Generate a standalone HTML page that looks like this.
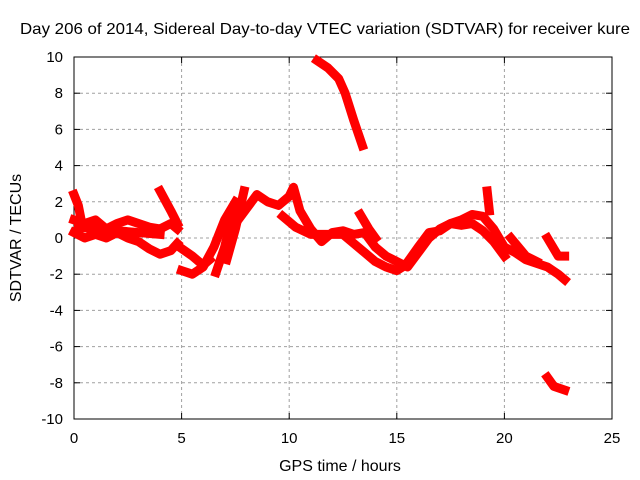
<!DOCTYPE html>
<html><head><meta charset="utf-8"><style>
body{margin:0;background:#fff}
svg{display:block;font-family:"Liberation Sans",sans-serif}
</style></head><body>
<svg id="chart" width="640" height="480">
<g id="grid"></g>
<g id="axes"></g>
<g id="series"></g>
<text x="325" y="34" text-anchor="middle" font-size="16" textLength="610" lengthAdjust="spacingAndGlyphs">Day 206 of 2014, Sidereal Day-to-day VTEC variation (SDTVAR) for receiver kure</text>
<text x="340" y="471" text-anchor="middle" font-size="16">GPS time / hours</text>
<text transform="translate(21,238) rotate(-90)" text-anchor="middle" font-size="16">SDTVAR / TECUs</text>
</svg>
<script>
const xTicks=[0,5,10,15,20,25];
const yTicks=[-10,-8,-6,-4,-2,0,2,4,6,8,10];
const trackA=[[0,1.0],[0.5,0.8],[1,1.0],[1.5,0.5],[2,0.8],[2.5,1.0],[3,0.8],[3.5,0.6],[4,0.5],[4.5,0.8],[4.8,0.5]];
const trackB=[[0,0.3],[0.5,0.0],[1,0.2],[1.5,0],[2,0.3],[2.5,0.0],[3,-0.2],[3.5,-0.6],[4,-0.9],[4.5,-0.7],[4.8,-0.3]];
const trackC=[[0,2.4],[0.2,1.8],[0.3,1.2]];
const trackD=[[4.0,2.6],[4.5,1.5],[4.8,0.8]];
const trackE=[[5.0,-1.8],[5.5,-2.0],[6,-1.6],[6.5,-0.5],[7,1.0],[7.5,2.0]];
const trackF=[[4.9,-0.5],[5.5,-1.0],[6,-1.5],[6.3,-1.2]];
const trackG=[[6.6,-1.9],[7.0,-0.5],[7.4,1.5]];
const trackH=[[7.1,-1.2],[7.5,0.5],[7.9,2.6]];
const trackI=[[7.5,0.8],[8,1.6],[8.5,2.4],[9,2.0],[9.5,1.8],[10,2.3],[10.2,2.8],[10.5,1.5],[11,0.5],[11.5,-0.2],[12,0.3],[12.5,0.4],[13,0.2],[13.5,0.3],[14,-0.5],[14.5,-1.0],[15,-1.3],[15.5,-1.6],[16,-0.8],[16.5,0],[17,0.5],[17.5,0.8],[18,1.0],[18.5,1.3],[19,1.2],[19.5,0.5],[20,-0.5],[20.5,-0.8],[21,-1.2],[21.5,-1.4],[22,-1.6],[22.5,-2.0],[22.8,-2.3]];
const trackJ=[[9.7,1.2],[10.3,0.6],[11,0.2],[12,0.2],[12.5,0.2],[13,-0.3],[13.5,-0.8],[14,-1.3],[14.5,-1.6],[15,-1.8],[15.4,-1.5],[16,-0.5],[16.5,0.3],[17,0.4],[17.5,0.8],[18,0.7],[18.5,0.8],[19,0.4],[19.5,-0.2],[20,-1]];
const trackK=[[13.3,1.3],[13.7,0.5],[14,0]];
const trackL=[[19.2,2.6],[19.3,1.5]];
const trackM=[[20.3,0],[21,-1],[21.5,-1.3]];
const trackN=[[22,0],[22.5,-1],[22.8,-1.0]];
const trackO=[[11.3,9.8],[11.8,9.4],[12.3,8.8],[12.6,8.0],[13,6.5],[13.4,5.1]];
const trackP=[[22,-7.7],[22.3,-8.2],[22.8,-8.4]];
const trackQ=[[0.2,0.6],[1,0.5],[2,0.4],[3,0.3],[4,0.2]];
const tracks=[trackA,trackB,trackC,trackD,trackE,trackF,trackG,trackH,trackI,trackJ,trackK,trackL,trackM,trackN,trackO,trackP,trackQ];
const X0=74,X1=612,Y0=419,Y1=57;
const sx=h=>X0+(h-0)/25*(X1-X0);
const sy=v=>Y0-(v+10)/20*(Y0-Y1);
const NS='http://www.w3.org/2000/svg';
function mk(p,t,a){const e=document.createElementNS(NS,t);for(const k in a)e.setAttribute(k,a[k]);p.appendChild(e);return e;}
const grid=document.getElementById('grid'),axes=document.getElementById('axes'),series=document.getElementById('series');
xTicks.forEach(t=>{
 const x=sx(t);
 if(t>0&&t<25){const l=mk(grid,'line',{x1:x,x2:x,y1:Y1,y2:Y0,stroke:'#a0a0a0','stroke-dasharray':'3,3'});
 
 }
 mk(axes,'line',{x1:x,x2:x,y1:Y0,y2:Y0-6,stroke:'#000'});
 mk(axes,'line',{x1:x,x2:x,y1:Y1,y2:Y1+6,stroke:'#000'});
 const tx=mk(axes,'text',{x:x,y:Y0+24,'text-anchor':'middle','font-size':'15'});
 tx.textContent=t;
 
 
});
yTicks.forEach(t=>{
 const y=sy(t);
 if(t>-10&&t<10){const l=mk(grid,'line',{x1:X0,x2:X1,y1:y,y2:y,stroke:'#a0a0a0','stroke-dasharray':'3,3'});
 
 }
 mk(axes,'line',{x1:X0,x2:X0+6,y1:y,y2:y,stroke:'#000'});
 mk(axes,'line',{x1:X1,x2:X1-6,y1:y,y2:y,stroke:'#000'});
 const tx=mk(axes,'text',{x:X0-11,y:y+5,'text-anchor':'end','font-size':'15'});
 tx.textContent=t;
 
 
});
const fr=mk(axes,'rect',{x:X0,y:Y1,width:X1-X0,height:Y0-Y1,fill:'none',stroke:'#000'});


tracks.forEach(tr=>{
 const pl=mk(series,'polyline',{points:tr.map(p=>sx(p[0])+','+sy(p[1])).join(' '),fill:'none',stroke:'#ff0000','stroke-width':'9','stroke-linejoin':'round','stroke-linecap':'square'});
 
 
});
</script>
</body></html>
